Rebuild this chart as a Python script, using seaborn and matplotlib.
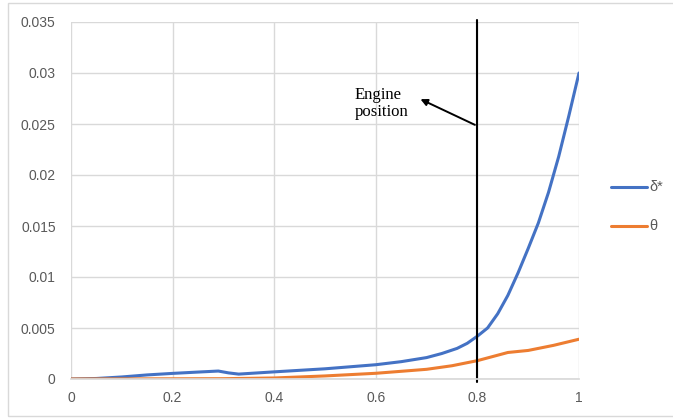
import pandas as pd
import matplotlib.pyplot as plt
import seaborn as sns
from matplotlib.patches import Rectangle

# Values
x_delta = [0, 0.05, 0.1, 0.15, 0.2, 0.25, 0.29, 0.31, 0.33, 0.4, 0.5, 0.6, 0.65,
           0.7, 0.73, 0.76, 0.78, 0.8, 0.82, 0.84, 0.86, 0.88, 0.9, 0.92, 0.94,
           0.96, 0.98, 1.0]
delta_star = [0, 0.00005, 0.0002, 0.0004, 0.00055, 0.00068, 0.00078, 0.0006, 0.00048,
              0.0007, 0.001, 0.0014, 0.0017, 0.0021, 0.0025, 0.003, 0.0035, 0.0042,
              0.005, 0.0064, 0.0082, 0.0104, 0.0128, 0.0153, 0.0183, 0.0218,
              0.0258, 0.030]

x_theta = [0, 0.1, 0.2, 0.3, 0.4, 0.5, 0.6, 0.7, 0.75, 0.8, 0.83, 0.86, 0.88, 0.9,
           0.95, 1.0]
theta = [0, 0.00001, 0.00002, 0.00003, 0.0001, 0.0003, 0.00056, 0.00095, 0.0013,
         0.0018, 0.0022, 0.0026, 0.0027, 0.0028, 0.0033, 0.0039]

engine_x = 0.8
x_ticks = [0, 0.2, 0.4, 0.6, 0.8, 1]
x_tick_labels = ["0", "0.2", "0.4", "0.6", "0.8", "1"]
y_ticks = [0, 0.005, 0.01, 0.015, 0.02, 0.025, 0.03, 0.035]
y_tick_labels = ["0", "0.005", "0.01", "0.015", "0.02", "0.025", "0.03", "0.035"]

df = pd.concat([
    pd.DataFrame({"x": x_delta, "y": delta_star, "series": "δ*"}),
    pd.DataFrame({"x": x_theta, "y": theta, "series": "θ"}),
], ignore_index=True)

sns.set_theme(style="white")
plt.rcParams['font.family'] = ['Liberation Sans', 'DejaVu Sans']

fig = plt.figure(figsize=(6.73, 4.18), dpi=100)
ax = fig.add_axes([71 / 673, 1 - 379 / 418, 508 / 673, 357 / 418])

# Excel-style chart border
fig.patches.append(Rectangle((8 / 673, 2 / 418), 1.0, 1 - 5 / 418, transform=fig.transFigure,
                             fill=False, edgecolor="#d9d9d9", linewidth=1.0))

sns.lineplot(data=df, x="x", y="y", hue="series", palette=["#4472c4", "#ed7d31"],
             linewidth=2.2, ax=ax, legend=False)

ax.axvline(engine_x, color="black", linewidth=1.5, ymin=-0.008, ymax=1.005, clip_on=False)

ax.text(0.559, 0.0270, "Engine\nposition", ha="left", va="center", fontsize=12,
        family=["Liberation Serif"], color="black", linespacing=1.05)
ax.annotate("", xy=(0.683, 0.02755), xytext=(engine_x, 0.0248),
            arrowprops=dict(arrowstyle="-|>", color="black", lw=1.4, mutation_scale=10))

ax.set_xlim(0, 1)
ax.set_ylim(0, 0.035)
ax.set_xticks(x_ticks)
ax.set_xticklabels(x_tick_labels)
ax.set_yticks(y_ticks)
ax.set_yticklabels(y_tick_labels)
ax.tick_params(axis="both", labelsize=10, labelcolor="#595959", length=0)
ax.tick_params(axis="x", pad=9)
ax.tick_params(axis="y", pad=11)
ax.grid(True, color="#d9d9d9", linewidth=1.0)
ax.set_axisbelow(True)
for side in ["top", "right", "left"]:
    ax.spines[side].set_visible(False)
ax.spines["bottom"].set_color("#d9d9d9")
ax.set_xlabel("")
ax.set_ylabel("")

# Legend to the right of the plot
fig.lines.append(plt.Line2D([611 / 673, 647 / 673], [1 - 187 / 418] * 2, transform=fig.transFigure,
                            color="#4472c4", linewidth=2.2))
fig.lines.append(plt.Line2D([611 / 673, 647 / 673], [1 - 226 / 418] * 2, transform=fig.transFigure,
                            color="#ed7d31", linewidth=2.2))
fig.text(649 / 673, 1 - 187 / 418, "δ*", va="center", ha="left", fontsize=10.5, color="#595959")
fig.text(649 / 673, 1 - 226 / 418, "θ", va="center", ha="left", fontsize=10.5, color="#595959")

plt.savefig("out.png", dpi=100)
